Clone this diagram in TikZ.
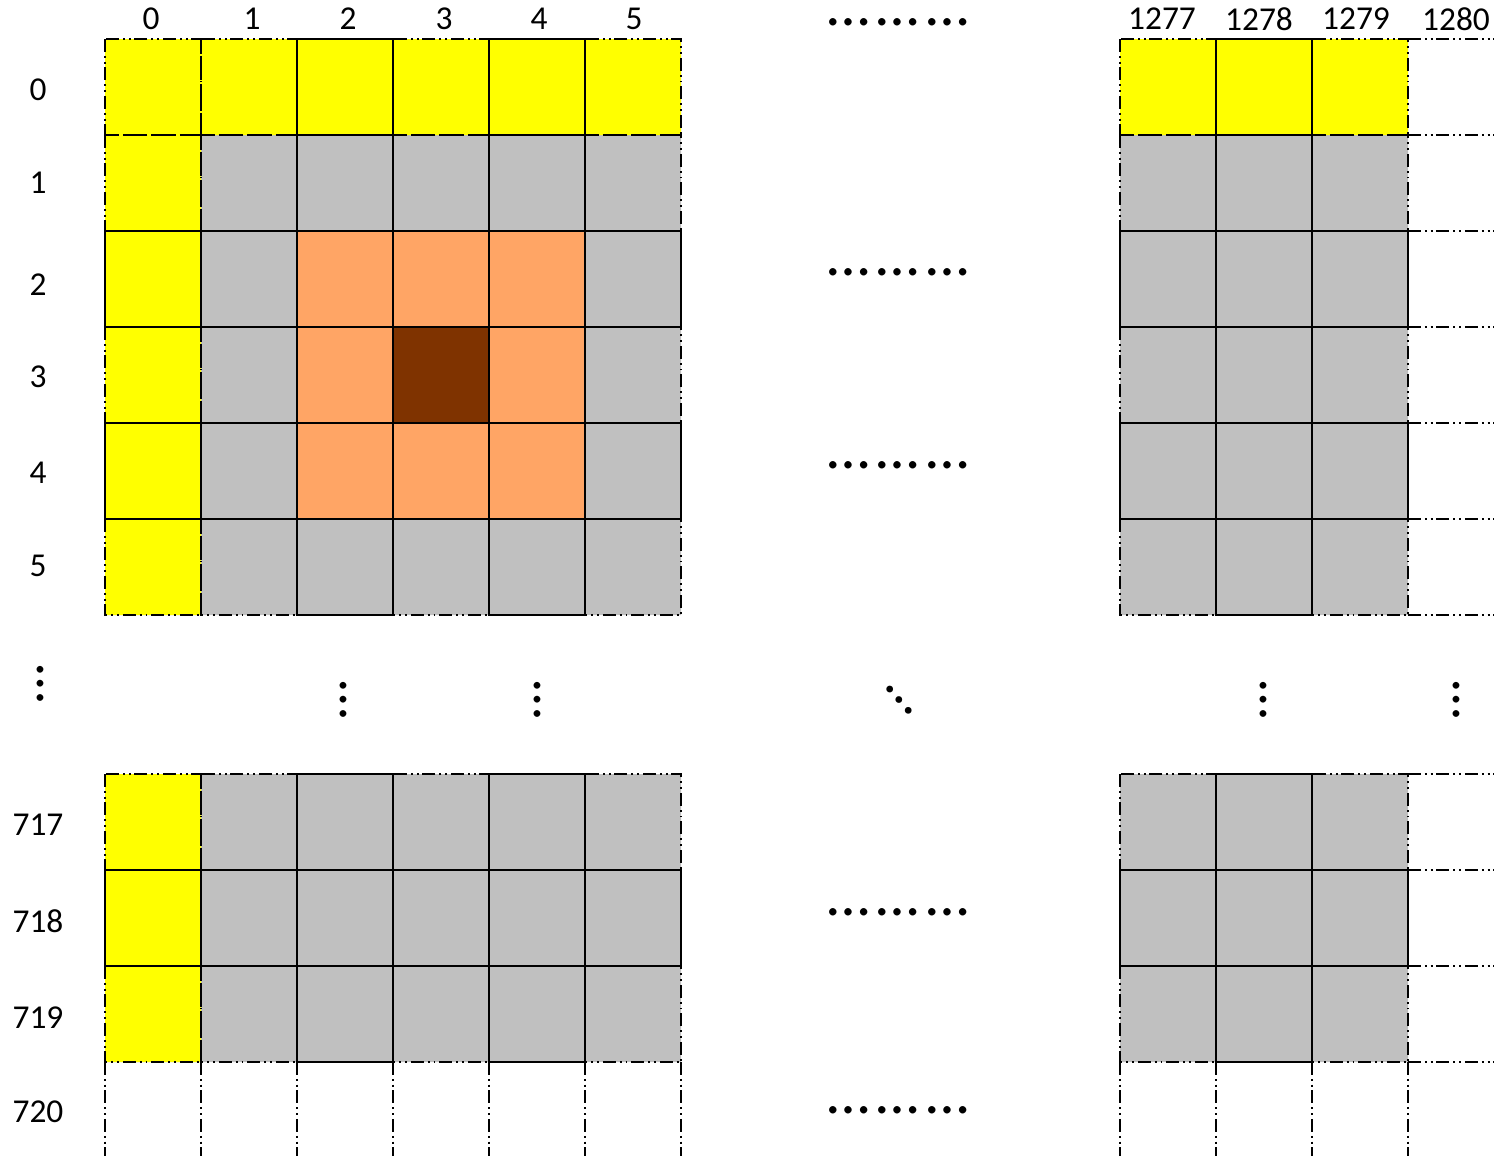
\documentclass[tikz,border=0pt]{standalone}
\usepackage{fontspec}
\setmainfont{Carlito}
\usetikzlibrary{positioning}
\definecolor{pixyellow}{RGB}{255,255,0}
\definecolor{pixgray}{RGB}{192,192,192}
\definecolor{pixorange}{RGB}{255,165,101}
\definecolor{pixdark}{RGB}{127,51,0}

\begin{document}
\begin{tikzpicture}[x=0.02cm,y=-0.02cm,
  every node/.style={font=\fontsize{19}{22}\selectfont,inner sep=0pt},
  ddline/.style={line width=1.1pt,dash pattern=on 7.4pt off 2.2pt on 1.1pt off 2.2pt on 1.1pt off 2.2pt},
  fullline/.style={line width=1.1pt},
  dotrow/.style={font=\fontsize{35}{35}\selectfont},
  dotcol/.style={font=\fontsize{32}{32}\selectfont}]
\useasboundingbox (0,0) rectangle (1494,1156);
\clip (0,0) rectangle (1494,1156);
% cell fills
\fill[pixgray] (105,39) rectangle (681,615) (1120,39) rectangle (1408,615)
  (105,774) rectangle (681,1062) (1120,774) rectangle (1408,1062);
\fill[pixyellow] (105,39) rectangle (681,135) (1120,39) rectangle (1408,135)
  (105,135) rectangle (201,615) (105,774) rectangle (201,1062);
\fill[pixorange] (297,231) rectangle (585,519);
\fill[pixdark] (393,327) rectangle (489,423);
% dash-dot-dot borders
\foreach \y in {39,135,231,327,423,519,774,870,966}{
  \foreach \x in {105,201,297,393,489,585,1120,1216,1312}
    \draw[ddline] (\x,\y) rectangle ++(96,96);
  \draw[ddline] (1408,\y) -- (1494,\y);}
\foreach \y in {615,1062} \draw[ddline] (1408,\y) -- (1494,\y);
\foreach \x in {105,201,297,393,489,585,681,1120,1216,1312,1408}
  \draw[ddline] (\x,1062) -- (\x,1156);
% solid rows and columns
\foreach \y in {231,423,870}
  \foreach \x in {105,201,297,393,489,585,1120,1216,1312}
    \draw[fullline] (\x,\y) rectangle ++(96,96);
\foreach \x in {297,489,1216}
  \foreach \y in {39,135,231,327,423,519,774,870,966}
    \draw[fullline] (\x,\y) rectangle ++(96,96);
% column indices
\foreach \c/\x in {0/151,1/252,2/348,3/444,4/539,5/634,1277/1162,1278/1259,1279/1356,1280/1456}
  \node (col\c) at (\x,19) {\c};
% row indices
\foreach \r/\y in {0/90,1/183,2/285,3/377,4/473,5/566,717/825,718/921,719/1018,720/1112}
  \node (row\r) at (38,\y) {\r};
% ellipses
\foreach \n/\y in {top/22,r2/272,r4/465,r718/912,r720/1110}
  \node[dotrow] (hdots\n) at (898,\y) {…\kern4pt…\kern4pt…};
\foreach \n/\x/\y in {left/40/684,c2/343/700,c4/537/700,c1278/1263/700,c1280/1456/700}
  \node[dotcol,rotate=-90] (vdots\n) at (\x,\y) {…};
\node[dotcol,rotate=-49] (ddots) at (899,700) {…};
\end{tikzpicture}
\end{document}
